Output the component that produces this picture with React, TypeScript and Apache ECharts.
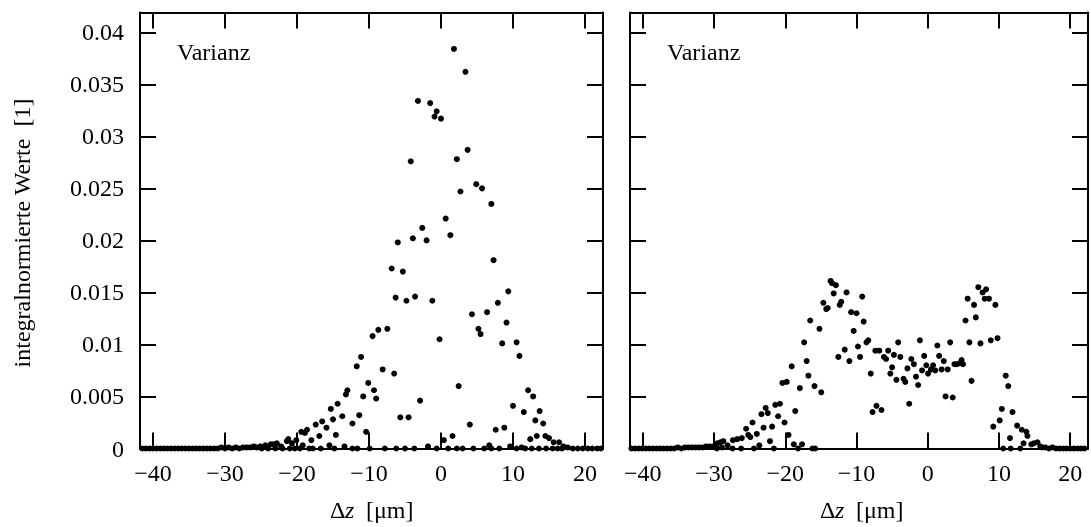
import React, { useEffect, useRef } from "react";
import * as echarts from "echarts";

// Tick values
const xTicks = [-40, -30, -20, -10, 0, 10, 20];
const yTicks = [0, 0.005, 0.01, 0.015, 0.02, 0.025, 0.03, 0.035, 0.04];
const yTickLabels = ["0", "0.005", "0.01", "0.015", "0.02", "0.025", "0.03", "0.035", "0.04"];

// Left panel: Varianz (Δz in µm, value)
const leftPoints: [number, number][] = [
  [1.8, 0.0384], [3.4, 0.0362], [-3.2, 0.0334], [-1.5, 0.0332], [-0.6, 0.0324], [-0.9, 0.0319],
  [0.0, 0.0317], [3.7, 0.0287], [2.2, 0.0278], [-4.2, 0.0276], [4.9, 0.0254], [5.7, 0.025],
  [2.7, 0.0247], [7.0, 0.0235], [0.65, 0.0221], [-2.6, 0.0212], [-3.9, 0.0202], [-6.0, 0.0198],
  [-2.0, 0.02], [1.3, 0.0205], [7.3, 0.0181], [-6.85, 0.0173], [-5.3, 0.017], [-6.3, 0.0145],
  [-4.8, 0.0142], [-3.6, 0.0146], [-1.2, 0.0142], [9.35, 0.0151], [7.9, 0.014], [4.3, 0.0129],
  [6.4, 0.0131], [9.1, 0.0121], [-9.5, 0.0108], [-8.7, 0.0114], [-7.45, 0.0115], [-0.2, 0.0105],
  [5.2, 0.0115], [5.5, 0.011], [8.5, 0.0101], [10.5, 0.0102], [10.9, 0.0089], [-11.1, 0.0088],
  [-11.7, 0.0079], [-8.1, 0.0076], [-6.5, 0.0072], [-10.1, 0.0063], [2.45, 0.006], [-13.0, 0.0056],
  [-13.2, 0.0052], [-9.3, 0.0056], [-10.8, 0.005], [-9.0, 0.0048], [-2.9, 0.0046], [12.1, 0.0056],
  [12.8, 0.005], [-14.35, 0.0043], [-15.3, 0.0038], [-13.7, 0.0031], [-11.35, 0.0032], [-5.65, 0.003],
  [-4.5, 0.003], [10.0, 0.0041], [11.5, 0.0035], [13.7, 0.0036], [-15.0, 0.0028], [-16.5, 0.0026],
  [-17.4, 0.0023], [-15.9, 0.002], [-12.3, 0.0024], [13.1, 0.0027], [14.2, 0.0024], [4.0, 0.0023],
  [7.6, 0.0018], [8.8, 0.002], [-18.6, 0.0018], [-19.4, 0.0016], [-18.9, 0.0015], [-16.9, 0.0012],
  [-14.6, 0.0013], [-10.4, 0.0016], [1.6, 0.0012], [12.4, 0.0009], [13.3, 0.0012], [14.5, 0.0012],
  [15.0, 0.001], [15.65, 0.0006], [16.4, 0.0006], [-18.0, 0.0008], [-20.1, 0.0008], [-20.7, 0.0005],
  [-21.4, 0.0007], [-21.2, 0.0009], [-22.8, 0.0005], [-23.65, 0.0004], [-23.3, 0.0004], [-22.2, 0.0002],
  [-19.2, 0.0003], [-15.5, 0.0003], [-13.4, 0.0002], [0.4, 0.0008], [6.7, 0.0003], [11.2, 0.0001],
  [-25.1, 0.0002], [17.0, 0.0002], [-26.0, 0.0002], [-24.4, 0.0003]
];

const leftBaseline: [number, number][] = [
  [-41.5, 0], [-41.0, 0], [-40.5, 0], [-40.0, 0], [-39.5, 0], [-39.0, 0], [-38.5, 0], [-38.0, 0],
  [-37.5, 0], [-37.0, 0], [-36.5, 0], [-36.0, 0], [-35.5, 0], [-35.0, 0], [-34.5, 0], [-34.0, 0],
  [-33.5, 0], [-33.0, 0], [-32.5, 0], [-32.0, 0], [-31.5, 0], [-31.0, 0], [-30.5, 0.0001], [-30.0, 0],
  [-29.5, 0.0001], [-29.0, 0], [-28.5, 0.0001], [-28.0, 0], [-27.5, 0.0001], [-27.0, 0.0001],
  [-26.5, 0.0001], [-25.6, 0.0001], [-24.9, 0], [-24.0, 0], [-23.0, 0], [-22.0, 0], [-21.0, 0],
  [-20.3, 0], [-19.6, 0], [-18.3, 0], [-17.8, 0], [-16.7, 0], [-14.8, 0], [-12.3, 0], [-11.6, 0],
  [-9.9, 0], [-7.8, 0], [-6.2, 0], [-5.0, 0], [-3.7, 0], [-1.8, 0.0002], [-0.6, 0], [1.0, 0],
  [2.2, 0], [3.0, 0], [4.5, 0], [6.0, 0], [7.0, 0], [8.1, 0], [9.6, 0.0002], [10.5, 0], [11.7, 0],
  [12.6, 0], [13.6, 0], [14.6, 0], [15.5, 0], [16.2, 0], [16.8, 0], [17.6, 0.0001], [18.3, 0],
  [19.0, 0], [19.7, 0], [20.4, 0], [21.0, 0], [21.7, 0], [22.2, 0]
];

// Right panel: Varianz
const rightPoints: [number, number][] = [
  [-13.64, 0.0161], [-13.46, 0.0159], [-12.9, 0.0157], [-13.2, 0.0149], [-11.4, 0.015], [-9.2, 0.0146],
  [-14.65, 0.014], [-12.15, 0.0141], [-12.35, 0.0138], [-14.25, 0.0134], [-14.05, 0.0135], [-10.75, 0.0131],
  [-10.0, 0.013], [-16.5, 0.0123], [-9.0, 0.0122], [-15.2, 0.0115], [-10.4, 0.0113], [-17.35, 0.0102],
  [-8.35, 0.0104], [-8.6, 0.0102], [-11.65, 0.0095], [-9.8, 0.0098], [-12.55, 0.0088], [-11.0, 0.0084],
  [-9.5, 0.0088], [-7.35, 0.0094], [-17.0, 0.0084], [-19.1, 0.0079], [-8.0, 0.0072], [-16.75, 0.007],
  [-20.4, 0.0063], [-19.8, 0.0064], [-17.95, 0.0058], [-15.9, 0.006], [-14.95, 0.0054], [-21.4, 0.0042],
  [-20.75, 0.0043], [-7.2, 0.0041], [-7.75, 0.0035], [-6.5, 0.0037], [-22.75, 0.0039], [-23.35, 0.0033],
  [-22.45, 0.0034], [-21.0, 0.0031], [-18.6, 0.0036], [-24.6, 0.0025], [-25.5, 0.0019], [-23.05, 0.002],
  [-21.85, 0.0021], [-20.1, 0.0025], [-25.2, 0.0013], [-24.0, 0.0014], [-24.9, 0.0011], [-22.15, 0.0007],
  [-23.65, 0.0003], [-26.75, 0.0009], [-27.35, 0.0008], [-26.1, 0.001], [-28.1, 0.0003], [-28.7, 0.0007],
  [-29.1, 0.0006], [-29.55, 0.0005], [-19.55, 0.0013], [-18.8, 0.0004], [-17.65, 0.0004],
  [-6.8, 0.0094], [-5.55, 0.0094], [-4.15, 0.0102], [-1.1, 0.0104], [1.35, 0.0099], [3.15, 0.0102],
  [5.85, 0.0102], [7.4, 0.0101], [8.85, 0.0104], [9.8, 0.0106], [-6.15, 0.0088], [-5.85, 0.0086],
  [-4.75, 0.009], [-3.85, 0.0088], [-5.0, 0.0078], [-5.25, 0.0072], [-4.4, 0.0066], [-3.4, 0.0067],
  [-3.15, 0.0064], [-2.85, 0.0077], [-2.3, 0.0086], [-1.95, 0.0081], [-1.65, 0.0069], [-1.35, 0.0061],
  [-0.8, 0.0075], [-0.5, 0.0089], [-0.2, 0.008], [0.05, 0.0072], [0.45, 0.0076], [0.75, 0.008],
  [1.05, 0.0075], [1.6, 0.0089], [1.95, 0.0076], [2.25, 0.0084], [2.8, 0.0076], [3.75, 0.0081],
  [4.1, 0.0081], [4.5, 0.0082], [4.75, 0.0085], [4.95, 0.0081], [2.5, 0.005], [3.5, 0.0049],
  [6.15, 0.0065], [-2.6, 0.0043], [5.3, 0.0123], [5.6, 0.0144], [6.5, 0.0138], [6.75, 0.0126],
  [7.1, 0.0155], [7.7, 0.015], [8.2, 0.0153], [8.0, 0.0144], [8.6, 0.0144], [9.5, 0.0138],
  [10.95, 0.007], [11.3, 0.006], [10.4, 0.0038], [11.9, 0.0035], [10.1, 0.0027], [9.2, 0.0021],
  [12.55, 0.0022], [13.2, 0.0018], [13.85, 0.0016], [14.0, 0.0012], [11.55, 0.001], [13.45, 0.0005],
  [14.55, 0.0004], [14.9, 0.0005], [15.4, 0.0006], [16.05, 0.0001]
];

const rightBaseline: [number, number][] = [
  [-41.6, 0], [-41.1, 0], [-40.6, 0], [-40.1, 0], [-39.6, 0], [-39.1, 0], [-38.6, 0], [-38.1, 0],
  [-37.6, 0], [-37.1, 0], [-36.6, 0], [-36.1, 0], [-35.6, 0], [-35.1, 0.0001], [-34.6, 0], [-34.1, 0.0001],
  [-33.6, 0.0001], [-33.1, 0.0001], [-32.6, 0.0001], [-32.1, 0.0001], [-31.6, 0.0001], [-31.1, 0.0002],
  [-30.6, 0.0002], [-30.1, 0.0002], [-29.6, 0], [-28.9, 0.0001], [-27.4, 0], [-26.2, 0], [-24.4, 0],
  [-21.6, 0], [-18.2, 0], [-16.2, 0], [-15.8, 0], [10.6, 0], [11.65, 0], [13.0, 0], [15.8, 0.0002],
  [16.5, 0.0001], [17.0, 0], [17.5, 0.0001], [18.0, 0], [18.5, 0], [19.0, 0], [19.5, 0], [20.0, 0],
  [20.5, 0], [21.0, 0], [21.5, 0], [22.0, 0]
];

const X_MIN = -41.8;
const X_MAX = 22.5;
const Y_MIN = 0;
const Y_MAX = 0.0419;

const FONT = "Liberation Serif";
const FS = 24;

function xAxis(gridIndex: number, position: "bottom" | "top", labels: boolean) {
  return {
    type: "value",
    gridIndex,
    position,
    min: X_MIN,
    max: X_MAX,
    splitNumber: 6,
    axisLine: { show: true, onZero: false, lineStyle: { color: "#000", width: 2 } },
    axisTick: { show: true, inside: true, length: 16, lineStyle: { color: "#000", width: 2 } },
    axisLabel: {
      show: labels,
      formatter: (v: number) => {
        const t = xTicks.find((k) => Math.abs(k - v) < 1e-6);
        if (t === undefined) return "";
        return t < 0 ? "\u2212" + Math.abs(t) : String(t);
      },
      fontFamily: FONT,
      fontSize: FS,
      color: "#000",
      margin: 12,
    },
    splitLine: { show: false },
  };
}

function yAxis(gridIndex: number, position: "left" | "right", labels: boolean) {
  return {
    type: "value",
    gridIndex,
    position,
    min: Y_MIN,
    max: Y_MAX,
    splitNumber: 8,
    axisLine: { show: true, onZero: false, lineStyle: { color: "#000", width: 2 } },
    axisTick: { show: true, inside: true, length: 16, lineStyle: { color: "#000", width: 2 } },
    axisLabel: {
      show: labels,
      formatter: (v: number) => {
        const i = yTicks.findIndex((t) => Math.abs(t - v) < 1e-9);
        return i >= 0 ? yTickLabels[i] : "";
      },
      fontFamily: FONT,
      fontSize: FS,
      color: "#000",
      margin: 16,
    },
    splitLine: { show: false },
  };
}

function scatter(data: [number, number][], axisIndex: number) {
  return {
    type: "scatter",
    xAxisIndex: axisIndex,
    yAxisIndex: axisIndex,
    data,
    symbolSize: 6,
    itemStyle: { color: "#000", opacity: 1 },
  };
}

function txt(text: string, x: number, y: number, italic = false) {
  return {
    type: "text",
    x,
    y,
    style: {
      text,
      fontFamily: FONT,
      fontSize: FS,
      fontStyle: italic ? "italic" : "normal",
      fill: "#000",
      align: "left",
      verticalAlign: "middle",
    },
  };
}

export default function App() {
  const ref = useRef<HTMLDivElement>(null);
  useEffect(() => {
    if (!ref.current) return;
    const chart = echarts.init(ref.current, undefined, { renderer: "svg" });
    chart.setOption({
      animation: false,
      grid: [
        { left: 140, top: 12.5, width: 463, height: 436 },
        { left: 630, top: 12.5, width: 463, height: 436 },
      ],
      xAxis: [xAxis(0, "bottom", true), xAxis(0, "top", false), xAxis(1, "bottom", true), xAxis(1, "top", false)],
      yAxis: [yAxis(0, "left", true), yAxis(0, "right", false), yAxis(1, "left", false), yAxis(1, "right", false)],
      series: [
        scatter(leftBaseline, 0),
        scatter(leftPoints, 0),
        scatter(rightBaseline, 2),
        scatter(rightPoints, 2),
      ],
      graphic: [
        { type: "text", left: 177, top: 40, style: { text: "Varianz", fontFamily: FONT, fontSize: FS, fill: "#000" } },
        { type: "text", left: 667, top: 40, style: { text: "Varianz", fontFamily: FONT, fontSize: FS, fill: "#000" } },
        txt("\u0394", 330, 510),
        txt("z", 345, 510, true),
        txt("[\u03bcm]", 366, 510),
        txt("\u0394", 820, 510),
        txt("z", 835, 510, true),
        txt("[\u03bcm]", 856, 510),
        {
          type: "text",
          x: 22,
          y: 233,
          rotation: Math.PI / 2,
          style: {
            text: "integralnormierte Werte  [1]",
            fontFamily: FONT,
            fontSize: FS,
            fill: "#000",
            align: "center",
            verticalAlign: "middle",
          },
        },
      ],
    });
    return () => chart.dispose();
  }, []);
  return <div ref={ref} style={{ position: "fixed", left: 0, top: 0, width: 1091, height: 527 }} />;
}
